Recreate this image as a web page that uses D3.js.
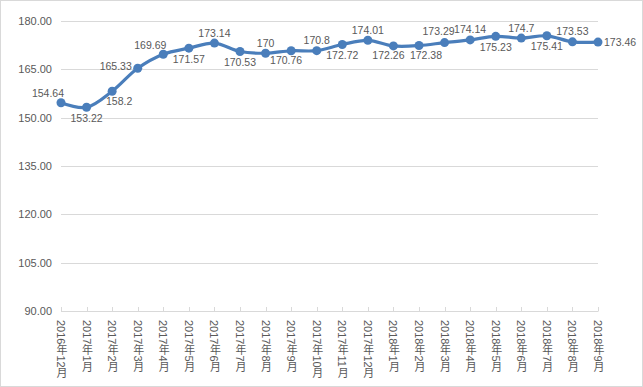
<!DOCTYPE html>
<html>
<head>
<meta charset="utf-8">
<script src="https://cdn.jsdelivr.net/npm/d3@7"></script>
<style>
  body { margin: 0; background: #fff; }
  text { font-family: "Liberation Sans", "Noto Sans CJK SC", sans-serif; fill: #595959; }
</style>
</head>
<body>
<div id="chart"></div>
<script>
// data
var months = ['2016年12月','2017年1月','2017年2月','2017年3月','2017年4月','2017年5月','2017年6月',
  '2017年7月','2017年8月','2017年9月','2017年10月','2017年11月','2017年12月','2018年1月','2018年2月',
  '2018年3月','2018年4月','2018年5月','2018年6月','2018年7月','2018年8月','2018年9月']
var prices = [154.64,153.22,158.2,165.33,169.69,171.57,173.14,170.53,170,170.76,170.8,172.72,
  174.01,172.26,172.38,173.29,174.14,175.23,174.7,175.41,173.53,173.46]
var labelSide = ['ul','b','br','l','ul','b','t','b','t','bl','t','b','t','bl','br','tl','t','b','t','b','t','r']
var yTicks = [90,105,120,135,150,165,180]

var W = 643, H = 387
var svg = d3.select('#chart').append('svg').attr('width',W).attr('height',H)

// outer frame
svg.append('rect').attr('x',0.5).attr('y',0.5).attr('width',W-1).attr('height',H-1)
  .attr('fill','#fff').attr('stroke','#d9d9d9')

var x = d3.scalePoint().domain(months).range([61,598])
var y = d3.scaleLinear().domain([90,180]).range([311,21])

// gridlines
svg.append('g').selectAll('line').data(yTicks.slice(1)).enter().append('line')
  .attr('x1',61).attr('x2',598)
  .attr('y1',function(d){ return Math.round(y(d))+0.5 })
  .attr('y2',function(d){ return Math.round(y(d))+0.5 })
  .attr('stroke','#d9d9d9')

// y labels
svg.append('g').selectAll('text').data(yTicks).enter().append('text')
  .attr('x',52).attr('y',function(d){ return y(d) })
  .attr('dy','0.35em').attr('text-anchor','end').attr('font-size',11)
  .text(function(d){ return d.toFixed(2) })

// x axis
var xAxis = svg.append('g').attr('transform','translate(0,311)')
xAxis.append('line').attr('x1',61).attr('x2',598).attr('y1',0.5).attr('y2',0.5).attr('stroke','#d9d9d9')
xAxis.selectAll('line.tick').data(months).enter().append('line').attr('class','tick')
  .attr('x1',function(d){ return Math.round(x(d))+0.5 })
  .attr('x2',function(d){ return Math.round(x(d))+0.5 })
  .attr('y1',-4).attr('y2',0.5).attr('stroke','#d9d9d9')
xAxis.selectAll('text').data(months).enter().append('text')
  .attr('x',function(d){ return x(d) }).attr('y',9)
  .attr('font-size',11)
  .style('writing-mode','vertical-rl')
  .text(function(d){ return d })

// smoothed line
var line = d3.line()
  .x(function(d,i){ return x(months[i]) })
  .y(function(d){ return y(d) })
  .curve(d3.curveCatmullRom.alpha(0.5))

svg.append('path').datum(prices).attr('d',line)
  .attr('fill','none').attr('stroke','#4a7ebb').attr('stroke-width',3.2).attr('stroke-linejoin','round')

svg.append('g').selectAll('circle').data(prices).enter().append('circle')
  .attr('cx',function(d,i){ return x(months[i]) })
  .attr('cy',function(d){ return y(d) })
  .attr('r',4.5).attr('fill','#4a7ebb')

// data labels
var off = {
  t:[0,-10], b:[0,11], l:[-22,-2], r:[6,0], ul:[-13,-9], bl:[-5,10], br:[7,10], tl:[-6,-11]
}
svg.append('g').selectAll('text').data(prices).enter().append('text')
  .attr('x',function(d,i){ return x(months[i]) + off[labelSide[i]][0] })
  .attr('y',function(d){ return y(d) })
  .attr('dy',function(d,i){ return (off[labelSide[i]][1] + 3.5) + 'px' })
  .attr('text-anchor',function(d,i){ return labelSide[i]=='r' ? 'start' : 'middle' })
  .attr('font-size',10.5)
  .text(function(d){ return d })
</script>
</body>
</html>
